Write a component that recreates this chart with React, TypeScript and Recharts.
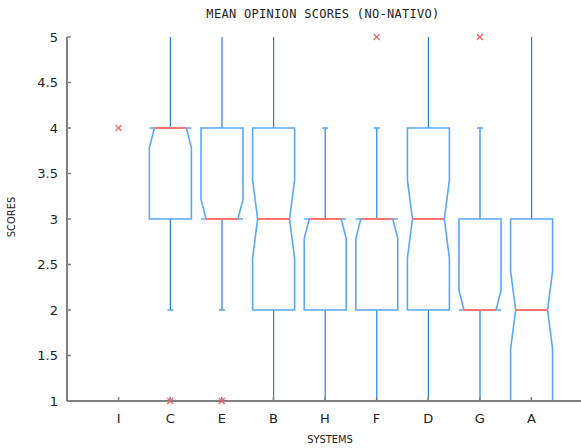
import React from "react";
import { ComposedChart, Bar, Scatter, XAxis, YAxis } from "recharts";

const systems = ["I", "C", "E", "B", "H", "F", "D", "G", "A"];
const lowWhisker = [null, 2, 2, 1, 1, 1, 1, 1, 1];
const q1 = [null, 3, 3, 2, 2, 2, 2, 2, 1];
const median = [null, 4, 3, 3, 3, 3, 3, 2, 2];
const q3 = [null, 4, 4, 4, 3, 3, 4, 3, 3];
const highWhisker = [null, 5, 5, 5, 4, 4, 5, 4, 5];
const outliers = [4, 1, 1, null, null, 5, null, 5, null];
const scoreTicks = [1, 1.5, 2, 2.5, 3, 3.5, 4, 4.5, 5];
const scoreDomain = [1, 5];

// ratings per system, used for the notch size (1.58 * IQR / sqrt(n))
const sampleSize = 54;

const rows = systems.map((name, i) => ({
  name,
  lo: lowWhisker[i],
  q1: q1[i],
  med: median[i],
  q3: q3[i],
  hi: highWhisker[i],
  out: outliers[i],
}));

const AXIS = "#7f7f7f";
const BOX = "#5aa8f7";
const WHISKER = "#1f82e6";
const MEDIAN = "#ff7373";
const OUTLIER = "#ff5c5c";
const TEXT = "#222";
const tickFont = "'DejaVu Sans', sans-serif";
const labelFont = "'Liberation Sans Narrow', 'DejaVu Sans Condensed', sans-serif";

// the frame is drawn under the boxes in the original, so edges lying on it stay grey
const onFrame = (v: number) => v === scoreDomain[0] || v === scoreDomain[1];

function BoxShape(props: any) {
  const { x, y, width, height, payload } = props;
  if (payload == null || payload.lo == null || !height) return <g />;
  const { lo, q1, med, q3, hi } = payload;
  const py = (v: number) => y + (height * (hi - v)) / (hi - lo);
  const cx = x + width / 2;
  const L = x;
  const R = x + width;
  const inset = width * 0.12;
  const notch = (1.58 * (q3 - q1)) / Math.sqrt(sampleSize);
  const lowN = Math.max(q1, med - notch);
  const highN = Math.min(q3, med + notch);
  const pts = [
    [L, py(q1)],
    [L, py(lowN)],
    [L + inset, py(med)],
    [L, py(highN)],
    [L, py(q3)],
    [R, py(q3)],
    [R, py(highN)],
    [R - inset, py(med)],
    [R, py(lowN)],
    [R, py(q1)],
  ];
  let d = "M" + pts.map((p) => p.join(",")).join("L");
  if (!onFrame(q1)) d += "Z";
  return (
    <g>
      <line x1={cx} x2={cx} y1={py(hi)} y2={py(q3)} stroke={WHISKER} strokeWidth={1.2} />
      <line x1={cx} x2={cx} y1={py(q1)} y2={py(lo)} stroke={WHISKER} strokeWidth={1.2} />
      {!onFrame(hi) && (
        <line x1={cx - 3} x2={cx + 3} y1={py(hi)} y2={py(hi)} stroke={BOX} strokeWidth={1.6} />
      )}
      {!onFrame(lo) && (
        <line x1={cx - 3} x2={cx + 3} y1={py(lo)} y2={py(lo)} stroke={BOX} strokeWidth={1.6} />
      )}
      <path d={d} fill="none" stroke={BOX} strokeWidth={1.6} />
      <line
        x1={L + inset}
        x2={R - inset}
        y1={py(med)}
        y2={py(med)}
        stroke={MEDIAN}
        strokeWidth={2}
      />
    </g>
  );
}

function Cross(props: any) {
  const { cx, cy, payload } = props;
  if (payload == null || payload.out == null || cx == null || cy == null) return <g />;
  const s = 3;
  return (
    <g stroke={OUTLIER} strokeWidth={1.2}>
      <line x1={cx - s} y1={cy - s} x2={cx + s} y2={cy + s} />
      <line x1={cx - s} y1={cy + s} x2={cx + s} y2={cy - s} />
    </g>
  );
}

function BottomTick({ x, y, payload }: any) {
  return (
    <g>
      <line x1={x} x2={x} y1={y} y2={y - 4} stroke={AXIS} strokeWidth={1.5} />
      <text x={x} y={y + 22} textAnchor="middle" fontFamily={tickFont} fontSize={13} fill={TEXT}>
        {payload.value}
      </text>
    </g>
  );
}

function TopTick({ x, y }: any) {
  return <line x1={x} x2={x} y1={y} y2={y + 4} stroke={AXIS} strokeWidth={1.5} />;
}

function LeftTick({ x, y, payload }: any) {
  return (
    <g>
      <line x1={x} x2={x + 4} y1={y} y2={y} stroke={AXIS} strokeWidth={1.5} />
      <text x={x - 9} y={y + 4.5} textAnchor="end" fontFamily={tickFont} fontSize={13} fill={TEXT}>
        {String(payload.value)}
      </text>
    </g>
  );
}

function RightTick({ x, y }: any) {
  return <line x1={x} x2={x - 4} y1={y} y2={y} stroke={AXIS} strokeWidth={1.5} />;
}

export default function App() {
  const pad = { left: 25.8, right: 25.8 };
  return (
    <div
      style={{
        position: "absolute",
        left: 0,
        top: 0,
        width: 581,
        height: 448,
        overflow: "hidden",
        background: "#fff",
      }}
    >
      <ComposedChart
        width={600}
        height={448}
        data={rows}
        margin={{ top: 37, right: 17, bottom: 0, left: 0 }}
      >
        <XAxis
          dataKey="name"
          type="category"
          height={47}
          padding={pad}
          tickLine={false}
          tickSize={0}
          tickMargin={0}
          axisLine={{ stroke: AXIS, strokeWidth: 2 }}
          tick={<BottomTick />}
          interval={0}
        />
        <XAxis
          xAxisId="top"
          orientation="top"
          dataKey="name"
          type="category"
          height={0}
          padding={pad}
          tickLine={false}
          tickSize={0}
          tickMargin={0}
          axisLine={{ stroke: AXIS, strokeWidth: 2 }}
          tick={<TopTick />}
          interval={0}
        />
        <YAxis
          type="number"
          domain={scoreDomain}
          ticks={scoreTicks}
          width={67}
          tickLine={false}
          tickSize={0}
          tickMargin={0}
          axisLine={{ stroke: AXIS, strokeWidth: 2 }}
          tick={<LeftTick />}
          interval={0}
        />
        <YAxis
          yAxisId="right"
          orientation="right"
          type="number"
          domain={scoreDomain}
          ticks={scoreTicks}
          width={0}
          tickLine={false}
          tickSize={0}
          tickMargin={0}
          axisLine={{ stroke: AXIS, strokeWidth: 2 }}
          tick={<RightTick />}
          interval={0}
        />
        <Bar
          dataKey={(d: any) => (d.lo == null ? null : [d.lo, d.hi])}
          barSize={42}
          shape={(p: any) => <BoxShape {...p} />}
          isAnimationActive={false}
        />
        <Scatter dataKey="out" shape={(p: any) => <Cross {...p} />} isAnimationActive={false} />
      </ComposedChart>
      <svg
        width={581}
        height={448}
        style={{ position: "absolute", left: 0, top: 0, pointerEvents: "none" }}
      >
        <text
          x={323}
          y={18}
          textAnchor="middle"
          fontFamily="'DejaVu Sans Mono', monospace"
          fontSize={12}
          letterSpacing={0.3}
          fill={TEXT}
        >
          MEAN OPINION SCORES (NO-NATIVO)
        </text>
        <text
          x={15}
          y={217}
          transform="rotate(-90 15 217)"
          textAnchor="middle"
          fontFamily={labelFont}
          fontSize={11}
          fill={TEXT}
        >
          SCORES
        </text>
        <text x={330} y={443} textAnchor="middle" fontFamily={labelFont} fontSize={11} fill={TEXT}>
          SYSTEMS
        </text>
      </svg>
    </div>
  );
}
